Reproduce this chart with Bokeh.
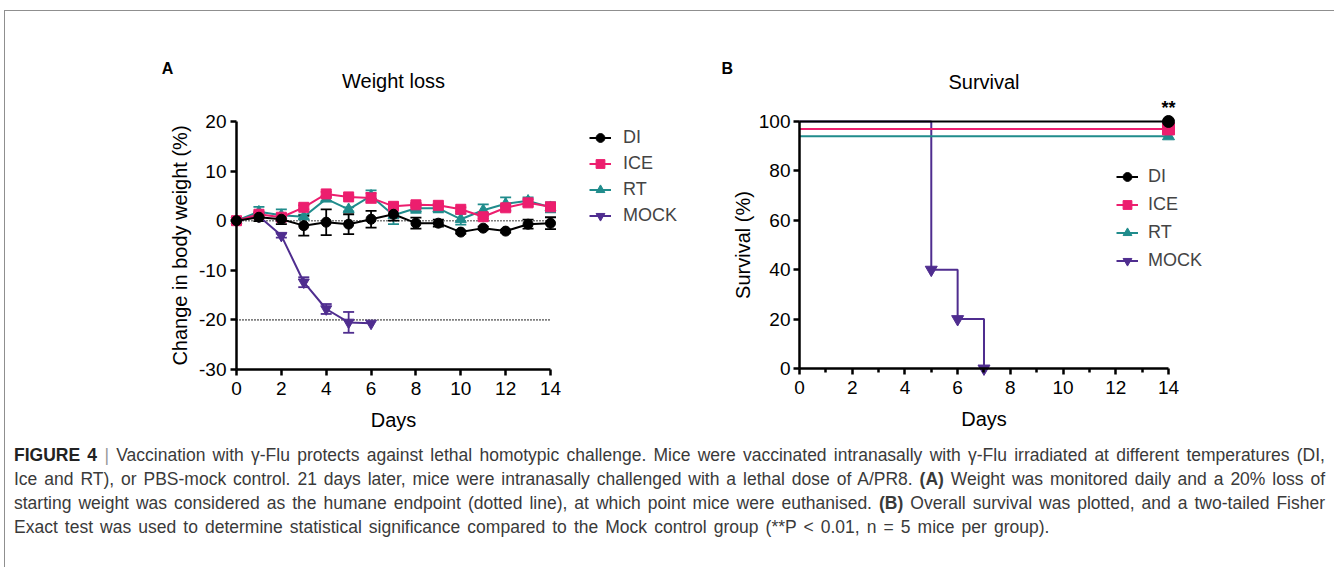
from bokeh.plotting import figure
from bokeh.models import (Range1d, FixedTicker, Legend, LegendItem, Label, Whisker,
                          TeeHead, ColumnDataSource, Div)
from bokeh.layouts import row, column
from bokeh.embed import file_html
from bokeh.resources import INLINE

# ---------------- data ----------------
days = list(range(15))
di_mean = [0, 0.7, 0.3, -1.0, -0.3, -0.7, 0.3, 1.3, -0.5, -0.5, -2.3, -1.5, -2.1, -0.7, -0.5]
di_sem = [0, 0.8, 1.0, 2.0, 2.6, 2.0, 1.7, 1.3, 1.1, 0.7, 0.3, 0.3, 0.3, 0.9, 1.2]
ice_mean = [0, 1.3, 0.7, 2.7, 5.4, 4.8, 4.6, 2.9, 3.2, 3.1, 2.3, 0.8, 2.6, 3.6, 2.8]
ice_sem = [0, 0.5, 0.5, 0.4, 0.4, 0.3, 1.0, 0.3, 0.4, 0.3, 0.4, 0.4, 0.6, 0.7, 0.5]
rt_mean = [0, 1.8, 1.1, 0.8, 4.4, 2.3, 5.0, 1.1, 2.5, 2.5, 0.3, 2.1, 3.4, 4.0, 2.7]
rt_sem = [0, 1.0, 1.2, 0.4, 0.4, 0.4, 1.1, 1.8, 0.9, 0.8, 1.1, 1.2, 1.3, 0.7, 1.0]
mock_days = [0, 1, 2, 3, 4, 5, 6]
mock_mean = [0, 0.9, -3.0, -12.4, -17.8, -20.5, -20.7]
mock_sem = [0, 0.3, 0.4, 1.0, 1.0, 2.1, 0]

endpoint = -20
baseline = 0

surv_days = [0, 14]
surv_di = [100, 100]
surv_ice = [97, 97]
surv_rt = [94, 94]
mock_surv_days = [0, 5, 6, 7]
mock_surv = [100, 40, 20, 0]

x_ticks = [0, 2, 4, 6, 8, 10, 12, 14]
x_labels = ["0", "2", "4", "6", "8", "10", "12", "14"]
x_minor_b = [1, 3, 5, 7, 9, 11, 13]
ya_ticks = [-30, -20, -10, 0, 10, 20]
ya_labels = ["-30", "-20", "-10", "0", "10", "20"]
yb_ticks = [0, 20, 40, 60, 80, 100]
yb_labels = ["0", "20", "40", "60", "80", "100"]

groups = ["DI", "ICE", "RT", "MOCK"]
colors = {"DI": "#000000", "ICE": "#EC1E6E", "RT": "#208C8C", "MOCK": "#4F2D8F"}
markers = {"DI": "circle", "ICE": "square", "RT": "triangle", "MOCK": "inverted_triangle"}
msize_a = {"DI": 10, "ICE": 10, "RT": 11, "MOCK": 11}
msize_b = {"DI": 12, "ICE": 12, "RT": 12, "MOCK": 12}

FONT = "Liberation Sans"
FIG_H = 432


def style_axes(p):
    for ax in (p.xaxis[0], p.yaxis[0]):
        ax.axis_line_width = 2.5
        ax.axis_line_color = "black"
        ax.major_tick_line_width = 2.5
        ax.major_tick_line_color = "black"
        ax.major_tick_out = 6
        ax.major_tick_in = 0
        ax.minor_tick_line_color = None
        ax.major_label_text_font = FONT
        ax.major_label_text_font_size = "19px"
        ax.major_label_text_color = "black"
        ax.axis_label_text_font = FONT
        ax.axis_label_text_font_size = "20px"
        ax.axis_label_text_font_style = "normal"
        ax.axis_label_text_color = "black"
    p.xgrid.visible = False
    p.ygrid.visible = False
    p.outline_line_color = None
    p.background_fill_color = "white"
    p.border_fill_color = "white"


def title_label(p, x, y, text):
    p.add_layout(Label(x=x, y=y, text=text, text_align="center", text_baseline="alphabetic",
                       text_font=FONT, text_font_size="20px", text_color="black"))


def panel_label(p, x, y, text):
    p.add_layout(Label(x=x, y=y, text=text, text_align="center", text_baseline="middle",
                       text_font=FONT, text_font_size="16px", text_font_style="bold",
                       text_color="black"))


# ---------------- Panel A ----------------
pA = figure(width=700, height=FIG_H, x_range=Range1d(-10.299, 20.911),
            y_range=Range1d(-44.919, 42.177),
            output_backend="svg", toolbar_location=None, min_border=0)
style_axes(pA)
pA.xaxis.ticker = FixedTicker(ticks=x_ticks)
pA.xaxis.major_label_overrides = dict(zip(x_ticks, x_labels))
pA.xaxis.bounds = (days[0], days[-1])
pA.xaxis.fixed_location = ya_ticks[0]
pA.xaxis.axis_label = "Days"
pA.xaxis.major_label_standoff = 6
pA.xaxis.axis_label_standoff = 11
pA.yaxis.ticker = FixedTicker(ticks=ya_ticks)
pA.yaxis.major_label_overrides = dict(zip(ya_ticks, ya_labels))
pA.yaxis.bounds = (ya_ticks[0], ya_ticks[-1])
pA.yaxis.fixed_location = days[0]
pA.yaxis.axis_label = "Change in body weight (%)"
pA.yaxis.major_label_standoff = 4
pA.yaxis.axis_label_standoff = 5

pA.line([days[0], days[-1]], [baseline, baseline], line_color="black", line_width=1.6, line_dash="1 2")
pA.line([days[0], days[-1]], [endpoint, endpoint], line_color="black", line_width=1.6, line_dash="1 2")

series_a = {
    "MOCK": (mock_days, mock_mean, mock_sem),
    "RT": (days, rt_mean, rt_sem),
    "ICE": (days, ice_mean, ice_sem),
    "DI": (days, di_mean, di_sem),
}
items_a = {}
for g in ["MOCK", "RT", "ICE", "DI"]:
    xs, ms, es = series_a[g]
    c = colors[g]
    wx = [x for x, e in zip(xs, es) if e > 0]
    lo = [m - e for m, e in zip(ms, es) if e > 0]
    hi = [m + e for m, e in zip(ms, es) if e > 0]
    src = ColumnDataSource(dict(x=wx, lower=lo, upper=hi))
    w = Whisker(source=src, base="x", lower="lower", upper="upper", line_color=c, line_width=1.8,
                upper_head=TeeHead(size=11, line_color=c, line_width=1.8),
                lower_head=TeeHead(size=11, line_color=c, line_width=1.8))
    pA.add_layout(w)
    lr = pA.line(xs, ms, line_color=c, line_width=2)
    sr = pA.scatter(xs, ms, marker=markers[g], size=msize_a[g], fill_color=c, line_color=c)
    items_a[g] = LegendItem(label=g, renderers=[lr, sr])

legA = Legend(items=[items_a[g] for g in groups], location=(584, 216.5),
              border_line_color=None, background_fill_alpha=0, padding=0, margin=0,
              spacing=3, label_height=23, glyph_height=23, glyph_width=22, label_standoff=12,
              label_text_font=FONT, label_text_font_size="18px")
pA.add_layout(legA)
title_label(pA, (days[0] + days[-1]) / 2, 28.1, "Weight loss")
panel_label(pA, -3.08, 30.62, "A")

# ---------------- Panel B ----------------
pB = figure(width=629, height=FIG_H, x_range=Range1d(-3.566, 20.298),
            y_range=Range1d(-30.364, 144.534),
            output_backend="svg", toolbar_location=None, min_border=0)
style_axes(pB)
pB.xaxis.ticker = FixedTicker(ticks=x_ticks, minor_ticks=x_minor_b)
pB.xaxis.major_label_overrides = dict(zip(x_ticks, x_labels))
pB.xaxis.minor_tick_line_color = "black"
pB.xaxis.minor_tick_line_width = 2.5
pB.xaxis.minor_tick_out = 4
pB.xaxis.minor_tick_in = 0
pB.xaxis.bounds = (surv_days[0], surv_days[-1])
pB.xaxis.fixed_location = yb_ticks[0]
pB.xaxis.axis_label = "Days"
pB.xaxis.major_label_standoff = 6
pB.xaxis.axis_label_standoff = 11
pB.yaxis.ticker = FixedTicker(ticks=yb_ticks)
pB.yaxis.major_label_overrides = dict(zip(yb_ticks, yb_labels))
pB.yaxis.bounds = (yb_ticks[0], yb_ticks[-1])
pB.yaxis.fixed_location = surv_days[0]
pB.yaxis.axis_label = "Survival (%)"
pB.yaxis.major_label_standoff = 3
pB.yaxis.axis_label_standoff = 2

items_b = {}
c = colors["MOCK"]
lr = pB.step(mock_surv_days, mock_surv, mode="after", line_color=c, line_width=2)
sr = pB.scatter(mock_surv_days[1:], mock_surv[1:], marker=markers["MOCK"], size=msize_b["MOCK"],
                fill_color=c, line_color=c)
items_b["MOCK"] = LegendItem(label="MOCK", renderers=[lr, sr])
for g, vals in [("RT", surv_rt), ("ICE", surv_ice), ("DI", surv_di)]:
    c = colors[g]
    lr = pB.line(surv_days, vals, line_color=c, line_width=2)
    sr = pB.scatter(surv_days[-1:], vals[-1:], marker=markers[g], size=msize_b[g],
                    fill_color=c, line_color=c)
    items_b[g] = LegendItem(label=g, renderers=[lr, sr])

legB = Legend(items=[items_b[g] for g in groups], location=(411, 170.5),
              border_line_color=None, background_fill_alpha=0, padding=0, margin=0,
              spacing=3, label_height=25, glyph_height=25, glyph_width=22, label_standoff=10,
              label_text_font=FONT, label_text_font_size="18px")
pB.add_layout(legB)
title_label(pB, (surv_days[0] + surv_days[-1]) / 2, 115.8, "Survival")
panel_label(pB, -2.74, 121.3, "B")
pB.add_layout(Label(x=surv_days[-1], y=105.6, text="**", text_align="center",
                    text_baseline="alphabetic", text_font=FONT, text_font_size="18px",
                    text_font_style="bold", text_color="black"))

# ---------------- caption ----------------
cap_lines = [
    '<b style="color:#222">FIGURE 4</b> <span style="color:#999">|</span> Vaccination with \u03b3-Flu protects against lethal homotypic challenge. Mice were vaccinated intranasally with \u03b3-Flu irradiated at different temperatures (DI,',
    'Ice and RT), or PBS-mock control. 21 days later, mice were intranasally challenged with a lethal dose of A/PR8. <b>(A)</b> Weight was monitored daily and a 20% loss of',
    'starting weight was considered as the humane endpoint (dotted line), at which point mice were euthanised. <b>(B)</b> Overall survival was plotted, and a two-tailed Fisher',
    'Exact test was used to determine statistical significance compared to the Mock control group (**P &lt; 0.01, n = 5 mice per group).',
]
html = '<div style="width:1311px;">'
for i, ln in enumerate(cap_lines):
    if i == len(cap_lines) - 1:
        extra = "text-align:left;word-spacing:2.2px;"
    else:
        extra = "text-align:justify;text-align-last:justify;"
    html += f'<div style="width:1311px;white-space:nowrap;{extra}">{ln}</div>'
html += "</div>"
cap = Div(text=html, width=1311, height=124, margin=(0, 0, 0, 9),
          styles={"font-family": "'Liberation Sans', sans-serif",
                  "font-size": "17.5px", "line-height": "24px", "color": "#3a3a3a"})

layout = column(row(pA, pB), cap, margin=(10, 0, 0, 4),
                styles={"border-top": "1px solid #8f8f8f", "border-left": "1px solid #8f8f8f"})

open("out.html", "w").write(file_html(layout, INLINE))
